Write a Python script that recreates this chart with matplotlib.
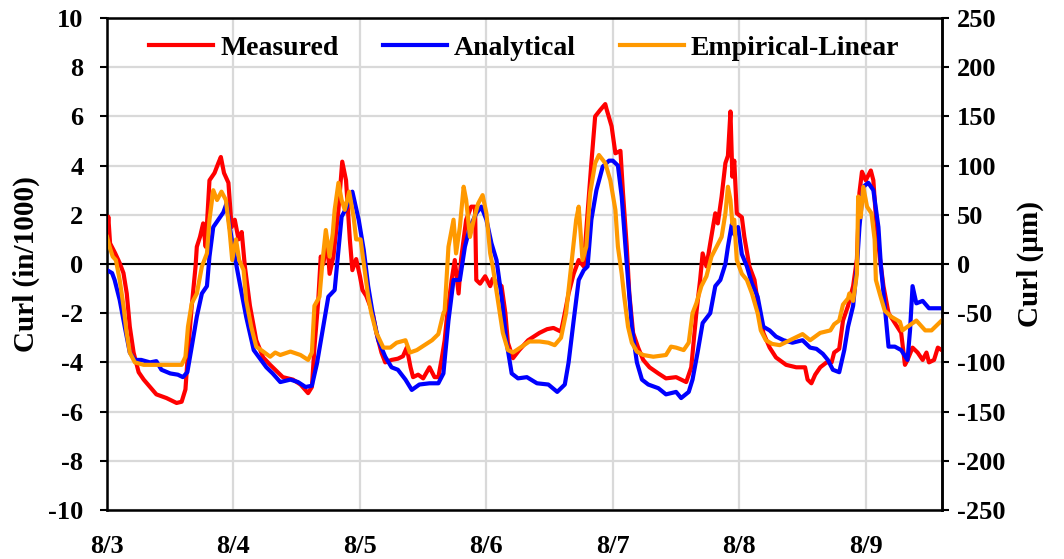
import matplotlib.pyplot as plt
import numpy as np

plt.rcParams['font.family'] = ['Liberation Serif', 'DejaVu Serif']
plt.rcParams['font.weight'] = 'bold'
plt.rcParams['axes.unicode_minus'] = False

# time in days after 8/3 00:00, curl in 1/1000 inch
t_meas = [0.0, 0.01, 0.024, 0.063, 0.10, 0.13, 0.156, 0.18, 0.21, 0.25, 0.29, 0.34, 0.39, 0.47,
          0.55, 0.59, 0.62, 0.64, 0.67, 0.70, 0.71, 0.735, 0.76, 0.78, 0.81, 0.85, 0.88, 0.90,
          0.925, 0.96, 0.985, 1.01, 1.04, 1.065, 1.09, 1.13, 1.18, 1.235, 1.29, 1.33, 1.39, 1.47,
          1.53, 1.59, 1.62, 1.64, 1.67, 1.69, 1.71, 1.74, 1.76, 1.79, 1.83, 1.86, 1.89, 1.92,
          1.94, 1.97, 2.0, 2.02, 2.05, 2.08, 2.105, 2.13, 2.17, 2.2, 2.25, 2.30, 2.34, 2.37,
          2.4, 2.42, 2.46, 2.5, 2.55, 2.59, 2.62, 2.645, 2.67, 2.685, 2.725, 2.75, 2.78, 2.80,
          2.84, 2.88, 2.91, 2.92, 2.95, 2.99, 3.03, 3.05, 3.12, 3.15, 3.17, 3.21, 3.26, 3.33,
          3.42, 3.48, 3.53, 3.59, 3.62, 3.65, 3.69, 3.73, 3.77, 3.79, 3.83, 3.86, 3.90, 3.94,
          3.95, 3.99, 4.02, 4.06, 4.08, 4.11, 4.13, 4.16, 4.2, 4.24, 4.29, 4.36, 4.42, 4.50,
          4.58, 4.62, 4.66, 4.69, 4.71, 4.74, 4.77, 4.81, 4.83, 4.86, 4.89, 4.91, 4.93, 4.945,
          4.96, 4.98, 5.02, 5.04, 5.08, 5.12, 5.15, 5.19, 5.24, 5.29, 5.37, 5.45, 5.52, 5.54,
          5.57, 5.6, 5.64, 5.69, 5.73, 5.75, 5.79, 5.82, 5.86, 5.9, 5.93, 5.95, 5.97, 6.0,
          6.04, 6.06, 6.08, 6.11, 6.14, 6.18, 6.23, 6.28, 6.31, 6.33, 6.37, 6.41, 6.45, 6.48,
          6.5, 6.54, 6.57, 6.6]
measured = [1.1, 1.92, 0.84, 0.45, 0.04, -0.37, -1.2, -2.55, -3.6, -4.4, -4.7, -5.0, -5.3, -5.45,
            -5.65, -5.6, -5.1, -3.6, -1.7, -0.1, 0.7, 1.1, 1.65, 0.7, 3.4, 3.7, 4.1, 4.35,
            3.7, 3.3, 1.5, 1.8, 1.0, 1.3, -0.1, -1.7, -3.1, -3.8, -4.1, -4.3, -4.6, -4.7,
            -4.9, -5.25, -5.0, -3.4, -1.5, 0.3, 0.0, 0.98, -0.4, 0.3, 2.2, 4.16, 3.4, 1.0,
            -0.25, 0.2, -0.5, -1.06, -1.3, -1.7, -2.1, -2.8, -3.6, -4.0, -3.9, -3.85, -3.75, -3.4,
            -4.2, -4.6, -4.5, -4.65, -4.2, -4.6, -4.6, -3.9, -3.1, -2.3, -0.65, 0.16, -1.2, 0.2,
            1.8, 2.33, 2.33, -0.65, -0.8, -0.5, -0.9, -0.6, -0.9, -2.0, -3.2, -3.83, -3.5, -3.1,
            -2.8, -2.65, -2.6, -2.75, -2.0, -1.2, -0.4, 0.16, -0.1, 1.38, 4.1, 6.0, 6.26, 6.5,
            6.3, 5.6, 4.5, 4.6, 2.9, 0.7, -1.2, -2.8, -3.4, -3.9, -4.2, -4.45, -4.65, -4.6,
            -4.8, -4.2, -2.0, -0.65, 0.43, -0.1, 0.84, 2.06, 1.65, 2.74, 4.1, 4.4, 6.2, 3.55,
            4.2, 2.06, 1.9, 1.1, -0.1, -0.65, -1.7, -2.8, -3.4, -3.8, -4.1, -4.2, -4.2, -4.7,
            -4.85, -4.5, -4.2, -4.0, -4.0, -3.6, -3.45, -2.3, -1.7, -0.9, 0.2, 2.9, 3.75, 3.4,
            3.8, 3.4, 1.9, 0.3, -0.9, -2.0, -2.4, -2.8, -4.1, -3.9, -3.4, -3.6, -3.9, -3.6,
            -4.0, -3.9, -3.4, -3.5]

t_anal = [0.0, 0.04, 0.06, 0.10, 0.14, 0.18, 0.22, 0.27, 0.34, 0.39, 0.43, 0.50, 0.56, 0.60,
          0.635, 0.67, 0.71, 0.75, 0.79, 0.81, 0.84, 0.88, 0.92, 0.945, 0.97, 1.01, 1.05, 1.10,
          1.16, 1.21, 1.26, 1.31, 1.37, 1.45, 1.51, 1.57, 1.62, 1.66, 1.71, 1.75, 1.80, 1.83,
          1.855, 1.895, 1.94, 1.99, 2.03, 2.065, 2.105, 2.145, 2.2, 2.25, 2.30, 2.36, 2.41, 2.47,
          2.55, 2.62, 2.66, 2.67, 2.70, 2.74, 2.79, 2.83, 2.87, 2.92, 2.96, 3.0, 3.04, 3.08,
          3.12, 3.16, 3.2, 3.25, 3.32, 3.40, 3.49, 3.56, 3.62, 3.65, 3.69, 3.73, 3.77, 3.80,
          3.83, 3.87, 3.92, 3.97, 4.0, 4.04, 4.07, 4.11, 4.15, 4.19, 4.23, 4.28, 4.36, 4.42,
          4.50, 4.54, 4.60, 4.63, 4.67, 4.71, 4.77, 4.81, 4.85, 4.89, 4.91, 4.94, 4.96, 4.99,
          5.02, 5.06, 5.10, 5.145, 5.19, 5.24, 5.29, 5.35, 5.42, 5.5, 5.56, 5.61, 5.66, 5.70,
          5.74, 5.79, 5.83, 5.86, 5.90, 5.93, 5.95, 5.98, 6.02, 6.06, 6.10, 6.12, 6.15, 6.18,
          6.23, 6.28, 6.33, 6.35, 6.37, 6.40, 6.45, 6.5, 6.6]
analytical = [-0.25, -0.37, -0.65, -1.46, -2.55, -3.6, -3.9, -3.9, -4.0, -3.95, -4.3, -4.45, -4.5, -4.6,
              -4.4, -3.36, -2.14, -1.2, -0.9, 0.3, 1.5, 1.8, 2.1, 2.46, 1.5, 0.3, -0.8, -2.14,
              -3.5, -3.85, -4.2, -4.45, -4.8, -4.7, -4.8, -5.0, -4.95, -4.05, -2.55, -1.33, -1.06, 0.57,
              1.92, 2.3, 2.94, 1.8, 0.57, -0.9, -2.14, -3.1, -3.77, -4.2, -4.3, -4.7, -5.12, -4.9,
              -4.85, -4.85, -4.45, -3.9, -2.3, -0.65, -0.65, 0.7, 1.5, 2.06, 2.33, 1.8, 0.84, 0.16,
              -1.33, -3.2, -4.45, -4.65, -4.6, -4.85, -4.9, -5.2, -4.9, -4.0, -2.3, -0.65, -0.25, -0.1,
              1.8, 3.0, 3.96, 4.2, 4.2, 4.0, 2.74, 0.0, -2.55, -4.0, -4.7, -4.9, -5.05, -5.3,
              -5.2, -5.45, -5.2, -4.7, -3.6, -2.4, -2.0, -0.9, -0.65, 0.0, 0.7, 1.6, 1.2, 1.5,
              0.4, -0.1, -0.8, -1.33, -2.55, -2.7, -2.95, -3.1, -3.2, -3.1, -3.4, -3.45, -3.65, -3.9,
              -4.3, -4.4, -3.5, -2.55, -1.7, -0.1, 1.5, 3.14, 3.3, 3.0, 1.5, -0.1, -1.7, -3.36,
              -3.36, -3.5, -3.9, -2.7, -0.9, -1.6, -1.5, -1.8, -1.8]

t_emp = [0.0, 0.02, 0.045, 0.07, 0.10, 0.13, 0.155, 0.18, 0.22, 0.29, 0.39, 0.47, 0.55, 0.59,
         0.62, 0.64, 0.67, 0.71, 0.75, 0.79, 0.81, 0.84, 0.87, 0.905, 0.94, 0.97, 0.99, 1.02,
         1.045, 1.08, 1.10, 1.14, 1.18, 1.235, 1.29, 1.33, 1.37, 1.45, 1.53, 1.59, 1.62, 1.64,
         1.68, 1.705, 1.73, 1.76, 1.785, 1.80, 1.83, 1.855, 1.88, 1.915, 1.95, 1.97, 2.005, 2.03,
         2.065, 2.09, 2.13, 2.185, 2.24, 2.29, 2.36, 2.395, 2.45, 2.51, 2.57, 2.62, 2.66, 2.67,
         2.70, 2.74, 2.76, 2.79, 2.82, 2.84, 2.87, 2.90, 2.935, 2.97, 3.0, 3.03, 3.05, 3.09,
         3.13, 3.17, 3.21, 3.28, 3.34, 3.42, 3.49, 3.54, 3.59, 3.63, 3.67, 3.71, 3.73, 3.76,
         3.79, 3.82, 3.86, 3.89, 3.94, 3.98, 4.02, 4.04, 4.07, 4.09, 4.12, 4.15, 4.19, 4.24,
         4.32, 4.42, 4.46, 4.50, 4.56, 4.60, 4.63, 4.66, 4.70, 4.74, 4.78, 4.82, 4.86, 4.89,
         4.91, 4.93, 4.945, 4.96, 4.98, 5.02, 5.06, 5.10, 5.145, 5.17, 5.21, 5.26, 5.32, 5.40,
         5.50, 5.56, 5.64, 5.72, 5.75, 5.79, 5.82, 5.86, 5.87, 5.90, 5.93, 5.94, 5.96, 5.98,
         6.01, 6.045, 6.07, 6.08, 6.11, 6.15, 6.20, 6.27, 6.29, 6.33, 6.40, 6.47, 6.52, 6.6]
empirical = [1.1, 0.7, 0.3, 0.16, -0.65, -1.7, -2.8, -3.6, -4.0, -4.1, -4.1, -4.1, -4.1, -4.1,
             -3.77, -2.55, -1.6, -1.2, -0.1, 0.43, 1.8, 3.0, 2.6, 2.94, 2.6, 1.3, 0.16, 1.0,
             0.16, -0.25, -1.46, -2.55, -3.36, -3.56, -3.77, -3.6, -3.7, -3.56, -3.7, -3.9, -3.6, -1.7,
             -1.33, 0.16, 1.38, 0.3, 1.24, 2.2, 3.3, 2.6, 2.2, 2.94, 1.9, 1.0, 1.0, 0.03,
             -1.33, -2.0, -2.8, -3.4, -3.4, -3.2, -3.1, -3.6, -3.5, -3.3, -3.1, -2.85, -2.0, -1.9,
             0.7, 1.8, 0.43, 1.5, 3.14, 2.6, 1.1, 1.8, 2.46, 2.8, 2.06, 0.43, -0.1, -1.46,
             -2.8, -3.5, -3.6, -3.36, -3.15, -3.15, -3.2, -3.3, -3.0, -2.0, -0.1, 1.8, 2.33, 0.16,
             0.7, 2.87, 4.1, 4.43, 4.1, 3.4, 2.2, 0.7, -0.4, -1.33, -2.55, -3.2, -3.56, -3.7,
             -3.77, -3.7, -3.36, -3.4, -3.5, -3.2, -2.0, -1.6, -0.9, -0.5, 0.3, 0.7, 1.1, 2.06,
             3.14, 2.6, 1.65, 1.8, 0.16, -0.4, -0.65, -1.2, -2.0, -2.7, -3.1, -3.25, -3.3, -3.1,
             -2.85, -3.1, -2.8, -2.7, -2.45, -2.3, -1.65, -1.4, -1.2, -1.5, -0.4, 2.74, 1.9, 3.14,
             2.33, 2.06, 1.0, -0.65, -1.2, -1.9, -2.14, -2.35, -2.7, -2.55, -2.3, -2.7, -2.7, -2.3]

day_labels = ['8/3', '8/4', '8/5', '8/6', '8/7', '8/8', '8/9']

fig = plt.figure(figsize=(10.64, 5.59), dpi=100)
ax = fig.add_axes([0.1006, 0.0877, 0.7844, 0.8801])

ax.plot(t_meas, measured, color='#ff0000', lw=3.0, label='Measured', zorder=3)
ax.plot(t_anal, analytical, color='#0000ff', lw=3.0, label='Analytical', zorder=3)
ax.plot(t_emp, empirical, color='#ff9900', lw=3.0, label='Empirical-Linear', zorder=4)
ax.axhline(0, color='black', lw=1.5, zorder=2)

ax.set_xlim(0, 6.6)
ax.set_ylim(-10, 10)
ax.set_xticks(range(len(day_labels)))
ax.set_xticklabels(day_labels)
ax.set_yticks(np.arange(-10, 11, 2))
ax.grid(True, color='#d9d9d9', lw=1.6, zorder=0)
ax.set_axisbelow(True)
for s in ax.spines.values():
    s.set_linewidth(1.8)
    s.set_color('black')

ax.tick_params(axis='x', length=0, pad=18, labelsize=19)
ax.tick_params(axis='y', direction='out', length=5, width=1.5, pad=12, labelsize=19)
ax.set_ylabel('Curl (in/1000)', fontsize=21, fontweight='bold', labelpad=6)

ax2 = ax.twinx()
ax2.set_ylim(-250, 250)
ax2.set_yticks(np.arange(-250, 251, 50))
ax2.tick_params(axis='y', direction='out', length=5, width=1.5, pad=6, labelsize=19)
ax2.set_ylabel('Curl (µm)', fontsize=21, fontweight='bold', rotation=90, labelpad=8)
ax2.spines['right'].set_linewidth(1.8)

ax.legend(loc='upper center', bbox_to_anchor=(0.5, 1.015), ncol=3, frameon=False,
          fontsize=20, handlelength=2.3, columnspacing=1.6, handletextpad=0.25)

fig.savefig('out.png', dpi=100)
